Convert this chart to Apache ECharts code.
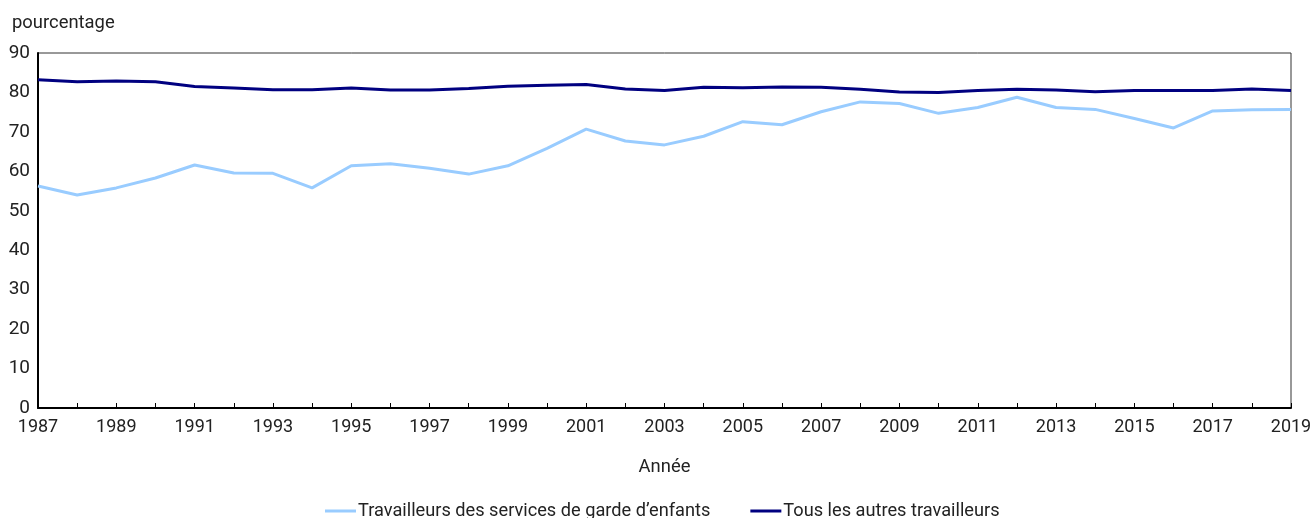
<!DOCTYPE html>
<html>
<head>
<meta charset="utf-8">
<script src="https://cdn.jsdelivr.net/npm/echarts@6/dist/echarts.min.js"></script>
<style>
  html, body { margin: 0; padding: 0; background: #fff; }
  #chart { width: 1315px; height: 518px; }
</style>
</head>
<body>
<div id="chart"></div>
<script>
// années
const years = [];
for (let y = 1987; y <= 2019; y++) years.push(String(y));

// Travailleurs des services de garde d'enfants
const gardeEnfants = [56.3, 54.0, 55.8, 58.3, 61.6, 59.6, 59.5, 55.8, 61.4, 61.9, 60.8,
  59.3, 61.4, 65.8, 70.7, 67.7, 66.7, 68.9, 72.6, 71.8, 75.1, 77.6, 77.2, 74.7, 76.2,
  78.8, 76.2, 75.7, 73.4, 71.0, 75.3, 75.6, 75.7];

// Tous les autres travailleurs
const autres = [83.2, 82.7, 82.9, 82.7, 81.5, 81.1, 80.7, 80.7, 81.1, 80.6, 80.6,
  81.0, 81.6, 81.8, 82.0, 80.9, 80.5, 81.3, 81.2, 81.4, 81.3, 80.8, 80.1, 80.0, 80.5,
  80.8, 80.6, 80.2, 80.5, 80.5, 80.5, 80.9, 80.5];

const seriesNames = ["Travailleurs des services de garde d’enfants", "Tous les autres travailleurs"];

const font = 'Roboto, "Liberation Sans", Arial, sans-serif';

const chart = echarts.init(document.getElementById("chart"));
const option = {
  animation: false,
  textStyle: { fontFamily: font, color: "#222" },
  title: {
    text: "pourcentage",
    left: 7,
    top: 9,
    textStyle: { fontFamily: font, fontSize: 18.4, fontWeight: "normal", color: "#222" },
  },
  grid: {
    left: 38,
    right: 24,
    top: 53,
    bottom: 110,
    show: true,
    borderColor: "#333",
    borderWidth: 1,
  },
  legend: {
    top: 497,
    left: 320,
    icon: "rect",
    itemWidth: 31,
    itemHeight: 3,
    itemGap: 40,
    textStyle: { fontFamily: font, fontSize: 18.2, color: "#222", padding: [0, 0, 0, -3] },
    data: seriesNames,
  },
  xAxis: {
    type: "category",
    data: years,
    boundaryGap: false,
    name: "Année",
    nameLocation: "middle",
    nameGap: 50,
    nameTextStyle: { fontFamily: font, fontSize: 18.4, color: "#222" },
    axisLine: { lineStyle: { color: "#000", width: 2 } },
    axisTick: { inside: true, interval: 0, length: 5, lineStyle: { color: "#000" } },
    axisLabel: { interval: 1, fontSize: 18, color: "#222", margin: 10, fontFamily: font },
    splitLine: { show: false },
  },
  yAxis: {
    type: "value",
    min: 0,
    max: 90,
    interval: 10,
    axisLine: { show: true, lineStyle: { color: "#000", width: 2 } },
    axisTick: { show: false },
    axisLabel: { fontSize: 19, color: "#222", margin: 8, fontFamily: font },
    splitLine: { show: false },
  },
  series: [
    {
      name: seriesNames[0],
      type: "line",
      data: gardeEnfants,
      symbol: "none",
      lineStyle: { color: "#99CCFF", width: 3 },
      itemStyle: { color: "#99CCFF" },
    },
    {
      name: seriesNames[1],
      type: "line",
      data: autres,
      symbol: "none",
      lineStyle: { color: "#000080", width: 3 },
      itemStyle: { color: "#000080" },
    },
  ],
};
chart.setOption(option);
</script>
</body>
</html>
